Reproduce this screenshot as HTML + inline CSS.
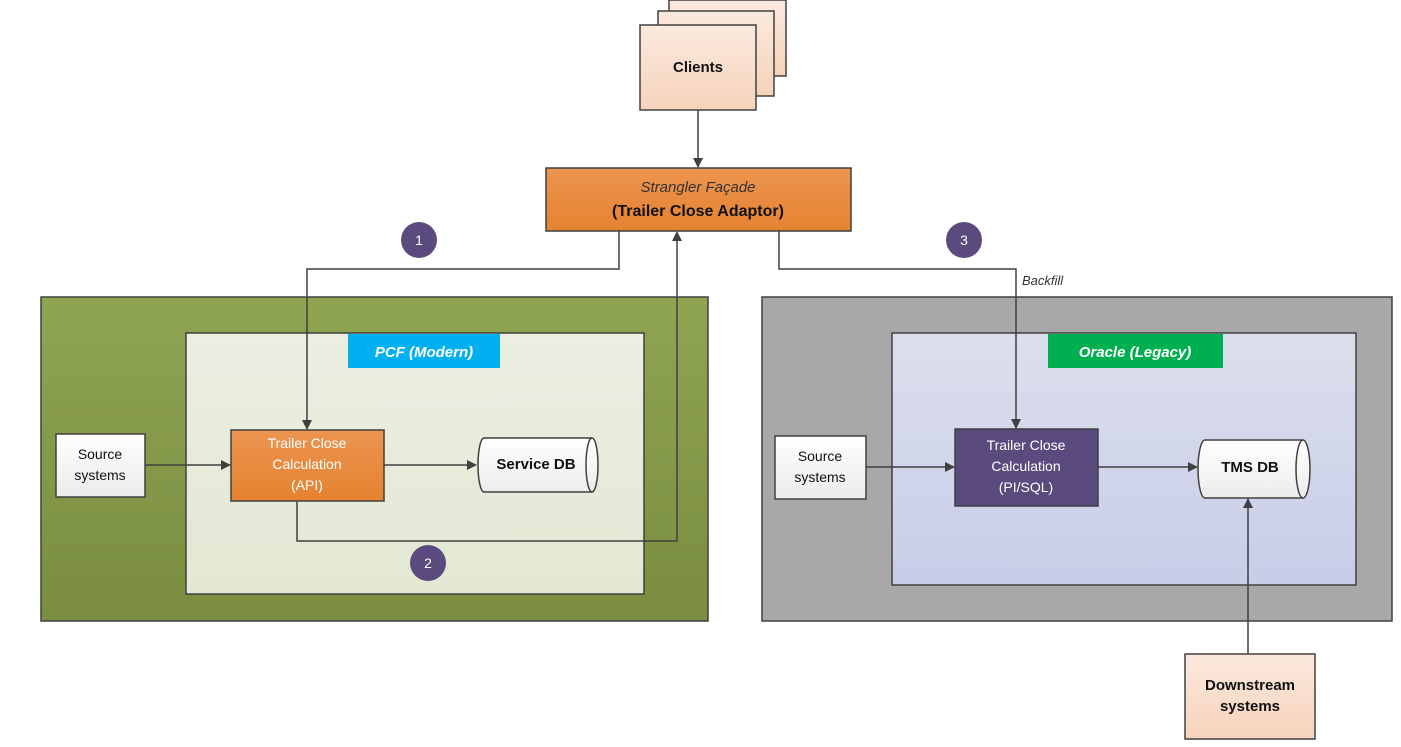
<!DOCTYPE html>
<html><head><meta charset="utf-8"><style>
html,body{margin:0;padding:0;background:#fff;}
svg{display:block;font-family:"Liberation Sans",sans-serif;}
</style></head><body>
<svg width="1401" height="747" viewBox="0 0 1401 747" xmlns="http://www.w3.org/2000/svg">
<defs>
<linearGradient id="peach" x1="0" y1="0" x2="0" y2="1"><stop offset="0" stop-color="#fbe9de"/><stop offset="1" stop-color="#f6d3bb"/></linearGradient>
<linearGradient id="orange" x1="0" y1="0" x2="0" y2="1"><stop offset="0" stop-color="#ec9450"/><stop offset="1" stop-color="#e5832f"/></linearGradient>
<linearGradient id="green" x1="0" y1="0" x2="0" y2="1"><stop offset="0" stop-color="#8fa552"/><stop offset="1" stop-color="#7a8d40"/></linearGradient>
<linearGradient id="ltgreen" x1="0" y1="0" x2="0" y2="1"><stop offset="0" stop-color="#ebeee1"/><stop offset="1" stop-color="#e3e8d4"/></linearGradient>
<linearGradient id="blue" x1="0" y1="0" x2="0" y2="1"><stop offset="0" stop-color="#dbdfec"/><stop offset="1" stop-color="#c8cde8"/></linearGradient>
<linearGradient id="white" x1="0" y1="0" x2="0" y2="1"><stop offset="0" stop-color="#ffffff"/><stop offset="1" stop-color="#ececec"/></linearGradient>
<marker id="ar" markerWidth="10" markerHeight="10" refX="9" refY="5" orient="auto" markerUnits="userSpaceOnUse"><path d="M0,0 L10,5 L0,10 z" fill="#404040"/></marker>
</defs>
<g stroke="#404040" stroke-width="1.5">
<!-- clients -->
<rect x="669" y="0" width="117" height="76" fill="url(#peach)"/>
<rect x="658" y="11" width="116" height="85" fill="url(#peach)"/>
<rect x="640" y="25" width="116" height="85" fill="url(#peach)"/>
<!-- facade -->
<rect x="546" y="168" width="305" height="63" fill="url(#orange)"/>
<!-- containers -->
<rect x="41" y="297" width="667" height="324" fill="url(#green)"/>
<rect x="186" y="333" width="458" height="261" fill="url(#ltgreen)"/>
<rect x="762" y="297" width="630" height="324" fill="#a8a8a8"/>
<rect x="892" y="333" width="464" height="252" fill="url(#blue)"/>
</g>
<rect x="348" y="334" width="152" height="34" fill="#00b0f0"/>
<rect x="1048" y="334" width="175" height="34" fill="#00b050"/>
<g fill="none" stroke="#404040" stroke-width="1.5">
<line x1="698" y1="110" x2="698" y2="167" marker-end="url(#ar)"/>
<polyline points="619,231 619,269 307,269 307,429" marker-end="url(#ar)"/>
<polyline points="297,501 297,541 677,541 677,232" marker-end="url(#ar)"/>
<polyline points="779,231 779,269 1016,269 1016,428" marker-end="url(#ar)"/>
<line x1="145" y1="465" x2="230" y2="465" marker-end="url(#ar)"/>
<line x1="384" y1="465" x2="476" y2="465" marker-end="url(#ar)"/>
<line x1="866" y1="467" x2="954" y2="467" marker-end="url(#ar)"/>
<line x1="1098" y1="467" x2="1197" y2="467" marker-end="url(#ar)"/>
<line x1="1248" y1="654" x2="1248" y2="499" marker-end="url(#ar)"/>
</g>
<g stroke="#404040" stroke-width="1.5">
<rect x="56" y="434" width="89" height="63" fill="url(#white)"/>
<rect x="231" y="430" width="153" height="71" fill="url(#orange)"/>
<rect x="775" y="436" width="91" height="63" fill="url(#white)"/>
<rect x="955" y="429" width="143" height="77" fill="#5b4a7e"/>
<rect x="1185" y="654" width="130" height="85" fill="url(#peach)"/>
<!-- cylinders -->
<path d="M484,438 L592,438 A6,27 0 0 1 592,492 L484,492 A6,27 0 0 1 484,438 z" fill="url(#white)"/>
<path d="M592,438 A6,27 0 0 0 592,492" fill="none"/>
<path d="M1205,440 L1303,440 A7,29 0 0 1 1303,498 L1205,498 A7,29 0 0 1 1205,440 z" fill="url(#white)"/>
<path d="M1303,440 A7,29 0 0 0 1303,498" fill="none"/>
</g>
<g fill="#5a4a7e">
<circle cx="419" cy="240" r="18"/><circle cx="428" cy="563" r="18"/><circle cx="964" cy="240" r="18"/>
</g>
<g font-size="14" fill="#fff" text-anchor="middle">
<text x="419" y="245">1</text><text x="428" y="568">2</text><text x="964" y="245">3</text>
</g>
<g text-anchor="middle" font-size="15" fill="#111">
<text x="698" y="72" font-weight="bold">Clients</text>
<text x="698" y="192" font-style="italic" fill="#333">Strangler Façade</text>
<text x="698" y="216" font-weight="bold" font-size="16">(Trailer Close Adaptor)</text>
<text x="424" y="357" font-style="italic" font-weight="bold" fill="#fff">PCF (Modern)</text>
<text x="1135" y="357" font-style="italic" font-weight="bold" fill="#fff">Oracle (Legacy)</text>
<text x="100" y="459" font-size="14">Source</text><text x="100" y="480" font-size="14">systems</text>
<text x="820" y="461" font-size="14">Source</text><text x="820" y="482" font-size="14">systems</text>
<g fill="#fff" font-size="14"><text x="307" y="448">Trailer Close</text><text x="307" y="469">Calculation</text><text x="307" y="490">(API)</text></g>
<g fill="#fff" font-size="14"><text x="1026" y="450">Trailer Close</text><text x="1026" y="471">Calculation</text><text x="1026" y="492">(PI/SQL)</text></g>
<text x="536" y="469" font-weight="bold">Service DB</text>
<text x="1250" y="472" font-weight="bold">TMS DB</text>
<text x="1250" y="690" font-weight="bold">Downstream</text>
<text x="1250" y="711" font-weight="bold">systems</text>
</g>
<text x="1022" y="285" font-size="13" font-style="italic" fill="#333">Backfill</text>
</svg>
</body></html>
